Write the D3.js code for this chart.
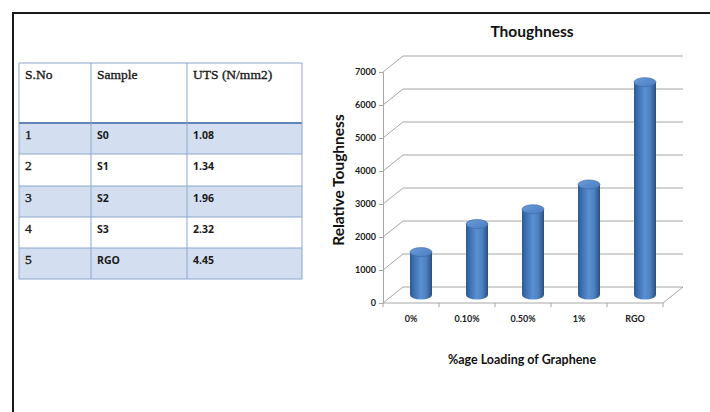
<!DOCTYPE html>
<html><head><meta charset="utf-8">
<script src="https://cdn.jsdelivr.net/npm/d3@7"></script>
<style>body{margin:0;background:#fff}svg{display:block}</style>
</head><body>
<script>
// ---- data ----
const tableHeaders = ["S.No", "Sample", "UTS (N/mm2)"];
const sNo = ["1", "2", "3", "4", "5"];
const samples = ["S0", "S1", "S2", "S3", "RGO"];
const uts = ["1.08", "1.34", "1.96", "2.32", "4.45"];

const categories = ["0%", "0.10%", "0.50%", "1%", "RGO"];
const toughness = [1300, 2150, 2600, 3350, 6450];
const yTicks = [0, 1000, 2000, 3000, 4000, 5000, 6000, 7000];
const chartTitle = "Thoughness";
const yTitle = "Relative Toughness";
const xTitle = "%age Loading of Graphene";

const W = 710, H = 412;
const svg = d3.select("body").append("svg").attr("width", W).attr("height", H);

// frame
svg.append("path").attr("d", `M13,${H} L13,13 L${W},13`).attr("fill", "none")
  .attr("stroke", "#1a1a1a").attr("stroke-width", 2);

// ---- table ----
const tx = d3.scaleOrdinal().domain([0, 1, 2, 3]).range([19, 91, 187, 302]);
const rowTops = [63, 123, 154, 186, 217, 248, 279];
const tg = svg.append("g");
const rows = sNo.map((d, i) => ({ i, cells: [sNo[i], samples[i], uts[i]] }));
tg.selectAll("rect.row").data(rows).join("rect")
  .attr("x", 19).attr("width", 302 - 19)
  .attr("y", d => rowTops[d.i + 1]).attr("height", d => rowTops[d.i + 2] - rowTops[d.i + 1])
  .attr("fill", d => d.i % 2 === 0 ? "#d3dff0" : "#ffffff");
const bc = "#8aa6cc";
rowTops.forEach((y, k) => {
  tg.append("line").attr("x1", 19).attr("x2", 302).attr("y1", y).attr("y2", y)
    .attr("stroke", k === 1 ? "#5f84b8" : bc).attr("stroke-width", k === 1 ? 2 : 1);
});
[19, 91, 187, 302].forEach(x => {
  tg.append("line").attr("x1", x).attr("x2", x).attr("y1", 63).attr("y2", 279)
    .attr("stroke", bc).attr("stroke-width", 1);
});
tableHeaders.forEach((h, j) => {
  tg.append("text").attr("x", tx(j) + 6).attr("y", 79).text(h)
    .attr("font-family", "Liberation Serif, serif").attr("font-size", 13.5)
    .attr("fill", "#1a1a1a").attr("stroke", "#1a1a1a").attr("stroke-width", 0.35);
});
rows.forEach(r => {
  r.cells.forEach((c, j) => {
    const t = tg.append("text").attr("x", tx(j) + 6).attr("y", rowTops[r.i + 1] + 16).text(c)
      .attr("fill", "#1a1a1a");
    if (j === 0) {
      t.attr("font-family", "Liberation Serif, serif").attr("font-size", 13.5)
        .attr("stroke", "#1a1a1a").attr("stroke-width", 0.35);
    } else {
      t.attr("font-family", "Open Sans, sans-serif").attr("font-size", 10.5).attr("font-weight", "bold");
    }
  });
});

// ---- 3D bar chart ----
const x0 = 383, x1 = 663, dx = 20, dy = -16;
const x = d3.scaleBand().domain(categories).range([x0, x1]).padding(0);
const y = d3.scaleLinear().domain([0, 7000]).range([303, 72]);
const cg = svg.append("g");
const gridC = "#a6a6a6";

yTicks.forEach(v => {
  cg.append("line").attr("x1", x0 + dx).attr("x2", x1 + dx)
    .attr("y1", y(v) + dy).attr("y2", y(v) + dy).attr("stroke", gridC).attr("stroke-width", 1);
  cg.append("line").attr("x1", x0).attr("x2", x0 + dx)
    .attr("y1", y(v)).attr("y2", y(v) + dy).attr("stroke", gridC).attr("stroke-width", 1);
});
cg.append("line").attr("x1", x0).attr("x2", x1).attr("y1", y(0)).attr("y2", y(0)).attr("stroke", gridC);
cg.append("line").attr("x1", x1).attr("x2", x1 + dx).attr("y1", y(0)).attr("y2", y(0) + dy).attr("stroke", gridC);
const yAxis = d3.axisLeft(y).tickValues(yTicks).tickSize(4).tickFormat(d3.format("d"));
const ya = cg.append("g").attr("transform", `translate(${x0},0)`).call(yAxis);
ya.select(".domain").attr("stroke", gridC);
ya.selectAll(".tick line").attr("stroke", gridC);
ya.selectAll(".tick text").attr("font-family", "Lato, sans-serif").attr("font-size", 9)
  .attr("font-weight", "bold").attr("fill", "#1a1a1a").attr("x", -7);
const xAxis = d3.axisBottom(x).tickSize(0).tickPadding(13);
const xa = cg.append("g").attr("transform", `translate(0,${y(0)})`).call(xAxis);
xa.select(".domain").remove();
xa.selectAll(".tick text").attr("font-family", "Lato, sans-serif").attr("font-size", 9)
  .attr("font-weight", "bold").attr("fill", "#1a1a1a");
const bounds = categories.map(c => x(c)).concat([x1]);
cg.selectAll("line.bt").data(bounds).join("line")
  .attr("x1", d => d).attr("x2", d => d).attr("y1", y(0)).attr("y2", y(0) + 4).attr("stroke", gridC);

const defs = svg.append("defs");
const gb = defs.append("linearGradient").attr("id", "gb").attr("x1", "0").attr("x2", "1").attr("y1", "0").attr("y2", "0");
[[0, "#2d5a91"], [0.2, "#3f73b3"], [0.5, "#5a90d1"], [0.75, "#4a7fc0"], [1, "#28507f"]]
  .forEach(([o, c]) => gb.append("stop").attr("offset", o).attr("stop-color", c));
const gt = defs.append("linearGradient").attr("id", "gt").attr("x1", "0").attr("x2", "1").attr("y1", "0").attr("y2", "1");
[[0, "#6a9bd9"], [1, "#4a7cc0"]].forEach(([o, c]) => gt.append("stop").attr("offset", o).attr("stop-color", c));

const bw = 22, ry = 4.5;
const bars = cg.selectAll("g.bar").data(categories.map((c, i) => ({ c, v: toughness[i] }))).join("g");
bars.each(function (d) {
  const g = d3.select(this);
  const cx = x(d.c) + x.bandwidth() / 2 + dx / 2;
  const yb = y(0) + dy / 2, yt = y(d.v) + dy / 2;
  g.append("path")
    .attr("d", `M${cx - bw / 2},${yt} L${cx - bw / 2},${yb} A${bw / 2},${ry} 0 0 0 ${cx + bw / 2},${yb} L${cx + bw / 2},${yt} Z`)
    .attr("fill", "url(#gb)");
  g.append("ellipse").attr("cx", cx).attr("cy", yt).attr("rx", bw / 2).attr("ry", ry)
    .attr("fill", "url(#gt)").attr("stroke", "#3a69a6").attr("stroke-width", 0.6);
});

svg.append("text").attr("x", 532).attr("y", 37).attr("text-anchor", "middle").text(chartTitle)
  .attr("font-family", "Lato, sans-serif").attr("font-size", 15.5).attr("font-weight", "bold").attr("fill", "#111");
svg.append("text").attr("transform", "translate(344,180) rotate(-90)").attr("text-anchor", "middle").text(yTitle)
  .attr("font-family", "Lato, sans-serif").attr("font-size", 15.5).attr("font-weight", "bold").attr("fill", "#111");
svg.append("text").attr("x", 522).attr("y", 364).attr("text-anchor", "middle").text(xTitle)
  .attr("font-family", "Lato, sans-serif").attr("font-size", 12.5).attr("font-weight", "bold").attr("fill", "#111");
</script>
</body></html>
